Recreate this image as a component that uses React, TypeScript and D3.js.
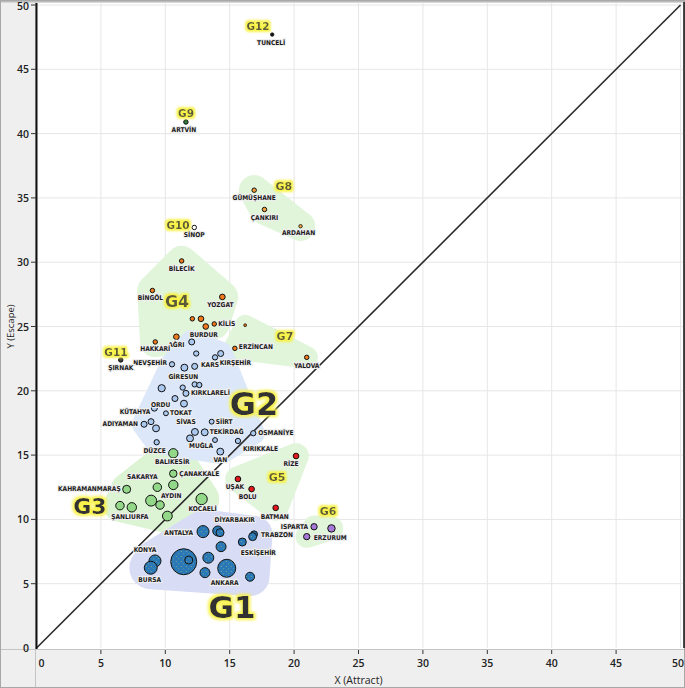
import React from "react";
import * as d3 from "d3";

// ---------- DATA ----------
type Pt = [string, number, number, number]; // name, x (Attract), y (Escape), weight

const g1Points: Pt[] = [
  ["ANTALYA", 12.93, 9.05, 36],
  ["DİYARBAKIR", 14.07, 9.1, 25],
  ["", 14.25, 8.97, 16],
  ["TRABZON", 16.89, 8.84, 12],
  ["", 16.78, 8.66, 16],
  ["ESKİŞEHİR", 15.98, 8.24, 16],
  ["", 14.33, 7.88, 25],
  ["", 13.34, 7.02, 30],
  ["", 11.43, 6.71, 169],
  ["", 11.82, 6.84, 16],
  ["ANKARA", 14.77, 6.2, 81],
  ["", 13.08, 5.86, 25],
  ["", 16.58, 5.54, 20],
  ["KONYA", 9.2, 6.77, 36],
  ["BURSA", 8.87, 6.24, 42],
];

const g2Points: Pt[] = [
  ["", 12.05, 23.8, 9],
  ["", 12.4, 22.9, 7],
  ["KIRŞEHİR", 14.3, 22.9, 9],
  ["KARS", 13.86, 22.6, 7],
  ["NEVŞEHİR", 10.52, 22.06, 7],
  ["GİRESUN", 11.48, 21.8, 12],
  ["", 12.28, 21.9, 9],
  ["ORDU", 9.72, 20.2, 13],
  ["", 11.35, 20.25, 7],
  ["", 12.28, 20.5, 7],
  ["", 12.64, 20.45, 7],
  ["KIRKLARELİ", 11.6, 19.8, 9],
  ["", 10.75, 19.4, 9],
  ["SİVAS", 11.45, 19.0, 12],
  ["KÜTAHYA", 9.15, 18.65, 9],
  ["TOKAT", 10.05, 18.25, 6],
  ["", 8.89, 17.6, 9],
  ["ADIYAMAN", 8.35, 17.4, 9],
  ["", 9.28, 17.08, 12],
  ["SİİRT", 13.6, 17.6, 6],
  ["", 12.3, 16.8, 12],
  ["TEKİRDAĞ", 13.06, 16.77, 12],
  ["MUĞLA", 11.92, 16.3, 12],
  ["", 13.86, 16.17, 6],
  ["OSMANİYE", 16.83, 16.7, 7],
  ["KIRIKKALE", 15.64, 16.1, 7],
  ["DÜZCE", 9.33, 16.0, 7],
  ["VAN", 14.27, 15.27, 12],
];

const g3Points: Pt[] = [
  ["BALIKESİR", 10.62, 15.14, 22],
  ["ÇANAKKALE", 10.62, 13.56, 14],
  ["SAKARYA", 9.38, 12.5, 18],
  ["AYDIN", 10.62, 12.68, 22],
  ["KAHRAMANMARAŞ", 7.0, 12.34, 16],
  ["", 8.9, 11.46, 30],
  ["", 9.59, 11.12, 18],
  ["KOCAELİ", 12.82, 11.58, 32],
  ["", 6.48, 11.07, 18],
  ["ŞANLIURFA", 7.4, 10.94, 22],
  ["", 10.16, 10.26, 24],
];

const g4Points: Pt[] = [
  ["BİLECİK", 11.27, 30.1, 5],
  ["BİNGÖL", 9.0, 27.8, 5],
  ["YOZGAT", 14.43, 27.3, 8],
  ["", 12.1, 25.6, 5],
  ["", 12.77, 25.6, 8],
  ["BURDUR", 13.14, 25.0, 8],
  ["KİLİS", 13.8, 25.2, 5],
  ["AĞRI", 10.86, 24.2, 8],
  ["HAKKARİ", 9.22, 23.8, 5],
];

const g5Points: Pt[] = [
  ["RİZE", 20.15, 14.93, 8],
  ["UŞAK", 15.64, 13.14, 8],
  ["BOLU", 16.7, 12.36, 8],
  ["BATMAN", 18.57, 10.9, 8],
];

const g6Points: Pt[] = [
  ["ISPARTA", 21.55, 9.43, 10],
  ["", 22.9, 9.3, 14],
  ["ERZURUM", 20.98, 8.66, 10],
];

const g7Points: Pt[] = [
  ["", 16.2, 25.1, 2],
  ["ERZİNCAN", 15.4, 23.3, 5],
  ["YALOVA", 20.98, 22.6, 5],
];

const g8Points: Pt[] = [
  ["GÜMÜŞHANE", 16.9, 35.6, 5],
  ["ÇANKIRI", 17.7, 34.1, 5],
  ["ARDAHAN", 20.5, 32.8, 3],
];

const g9Points: Pt[] = [["ARTVİN", 11.6, 40.9, 5]];
const g10Points: Pt[] = [["SİNOP", 12.25, 32.7, 5]];
const g11Points: Pt[] = [["ŞIRNAK", 6.54, 22.4, 5]];
const g12Points: Pt[] = [["TUNCELİ", 18.3, 47.7, 3]];

const groupIds = ["G1", "G2", "G3", "G4", "G5", "G6", "G7", "G8", "G9", "G10", "G11", "G12"];
const groupPoints: Pt[][] = [
  g1Points, g2Points, g3Points, g4Points, g5Points, g6Points,
  g7Points, g8Points, g9Points, g10Points, g11Points, g12Points,
];

// group label anchor (data coordinates)
const groupLabelX = [15.18, 16.89, 4.15, 10.91, 18.67, 22.63, 19.29, 19.21, 11.61, 10.99, 6.17, 17.2];
const groupLabelY = [3.19, 18.97, 11.04, 26.98, 13.22, 10.65, 24.26, 35.85, 41.6, 32.89, 23.02, 48.37];

const axisTicks = [0, 5, 10, 15, 20, 25, 30, 35, 40, 45, 50];

// ---------- STYLE / LAYOUT ----------
const W = 685;
const H = 688;
const PLOT_L = 36.5;
const PLOT_R = 680.5;
const PLOT_T = 5;
const PLOT_B = 648;

const pointFill: Record<string, string> = {
  G1: "#2a78b6", G2: "#abc8ee", G3: "#93d889", G4: "#f07a1e", G5: "#e3171c", G6: "#a678d8",
  G7: "#f07a1e", G8: "#f2a33c", G9: "#2f7d3c", G10: "#ffffff", G11: "#3c3c3c", G12: "#111111",
};
const hullFill: Record<string, string> = {
  G1: "#d8dcf4", G2: "#dce8fa", G3: "#dcf3d4", G4: "#e0f5d9", G5: "#e0f5d9", G6: "#e0f5d9",
  G7: "#e0f5d9", G8: "#e0f5d9",
};
const hullPad: Record<string, number> = { G1: 15, G2: 9, G3: 12, G4: 13, G5: 10, G6: 8, G7: 9, G8: 13 };
const hullOrder = ["G4", "G7", "G8", "G3", "G5", "G6", "G2", "G1"];
const groupLabelSize = [31, 32, 22, 16, 11, 11, 11, 11, 10.5, 10.5, 10.5, 10.5];

// label offset in px relative to point: dx, dy, anchor
const labelLayout: Record<string, [number, number, string]> = {
  "TUNCELİ": [-1, 8, "middle"], "ARTVİN": [-2, 8, "middle"], "GÜMÜŞHANE": [0, 8, "middle"],
  "ÇANKIRI": [0, 9, "middle"], "ARDAHAN": [-2, 7, "middle"], "SİNOP": [0, 8, "middle"],
  "BİLECİK": [0, 8, "middle"], "BİNGÖL": [-2, 8, "middle"], "YOZGAT": [-2, 8, "middle"],
  "BURDUR": [-2, 8, "middle"], "KİLİS": [4, 0, "start"], "AĞRI": [0, 8, "middle"],
  "HAKKARİ": [0, 7, "middle"], "ERZİNCAN": [4, -1, "start"], "YALOVA": [0, 9, "middle"],
  "ŞIRNAK": [0, 8, "middle"], "NEVŞEHİR": [-5, -1, "end"], "GİRESUN": [-1, 9, "middle"],
  "KARS": [-5, 8, "middle"], "KIRŞEHİR": [-1, 9, "start"], "KIRKLARELİ": [5, 0, "start"],
  "ORDU": [-1, 17, "middle"], "KÜTAHYA": [-4, 4, "end"], "TOKAT": [4, 0, "start"],
  "ADIYAMAN": [-6, 0, "end"], "SİVAS": [2, 18, "middle"], "SİİRT": [4, 0, "start"],
  "TEKİRDAĞ": [5, 0, "start"], "MUĞLA": [11, 8, "middle"], "OSMANİYE": [5, 0, "start"],
  "KIRIKKALE": [5, 8, "start"], "DÜZCE": [-2, 9, "middle"], "VAN": [0, 8, "middle"],
  "BALIKESİR": [-1, 9, "middle"], "ÇANAKKALE": [6, 0, "start"], "SAKARYA": [-15, -10, "middle"],
  "KAHRAMANMARAŞ": [-6, 0, "end"], "AYDIN": [-2, 11, "middle"], "KOCAELİ": [1, 10, "middle"],
  "ŞANLIURFA": [-2, 10, "middle"], "RİZE": [-5, 8, "middle"], "UŞAK": [-3, 8, "middle"],
  "BOLU": [-4, 8, "middle"], "BATMAN": [-1, 9, "middle"], "ISPARTA": [-6, 0, "end"],
  "ERZURUM": [7, 1, "start"], "ANTALYA": [-10, 1, "end"], "DİYARBAKIR": [17, -11, "middle"],
  "TRABZON": [7, 1, "start"], "ESKİŞEHİR": [16, 11, "middle"], "ANKARA": [-2, 15, "middle"],
  "KONYA": [-10, -11, "middle"], "BURSA": [-1, 12, "middle"],
};

export default function App() {
  const x = d3.scaleLinear().domain([0, 50]).range([PLOT_L, PLOT_R]);
  const y = d3.scaleLinear().domain([0, 50]).range([PLOT_B, PLOT_T]);
  const r = d3.scaleSqrt().domain([0, 169]).range([0, 13]);

  const all = groupPoints.flatMap((pts, gi) =>
    pts.map(([name, px, py, w]) => ({ name, group: groupIds[gi], x: px, y: py, w }))
  );

  const hullPath = (g: string) => {
    const gi = groupIds.indexOf(g);
    const pts = groupPoints[gi];
    const pad = hullPad[g];
    const cloud: [number, number][] = [];
    pts.forEach(([, px, py, w]) => {
      const rr = r(w) + pad;
      for (let k = 0; k < 24; k++) {
        const a = (k / 24) * Math.PI * 2;
        cloud.push([x(px) + rr * Math.cos(a), y(py) + rr * Math.sin(a)]);
      }
    });
    const hull = d3.polygonHull(cloud);
    if (!hull) return "";
    return d3.line().curve(d3.curveLinearClosed)(hull) || "";
  };

  const labelFont = "'DejaVu Sans Condensed', 'DejaVu Sans', sans-serif";
  const axisFont = "'Open Sans', 'DejaVu Sans', sans-serif";

  return (
    <svg width={W} height={H} style={{ position: "absolute", left: 0, top: 0 }}>
      <defs>
        <filter id="glowS" x="-40%" y="-40%" width="180%" height="180%">
          <feMorphology in="SourceAlpha" operator="dilate" radius="1.6" result="d" />
          <feGaussianBlur in="d" stdDeviation="1.2" result="b" />
          <feFlood floodColor="#f8f24a" result="f" />
          <feComposite in="f" in2="b" operator="in" result="g" />
          <feMerge>
            <feMergeNode in="g" />
            <feMergeNode in="SourceGraphic" />
          </feMerge>
        </filter>
        <filter id="glowL" x="-30%" y="-30%" width="160%" height="160%">
          <feMorphology in="SourceAlpha" operator="dilate" radius="2.2" result="d" />
          <feGaussianBlur in="d" stdDeviation="1.5" result="b" />
          <feFlood floodColor="#f8f24a" result="f" />
          <feComposite in="f" in2="b" operator="in" result="g" />
          <feMerge>
            <feMergeNode in="g" />
            <feMergeNode in="SourceGraphic" />
          </feMerge>
        </filter>
        <pattern id="speck" width="5" height="5" patternUnits="userSpaceOnUse">
          <rect width="5" height="5" fill="#2a78b6" />
          <circle cx="1.2" cy="1.5" r="0.45" fill="#d9d96a" />
          <circle cx="3.7" cy="3.8" r="0.4" fill="#c9d970" />
        </pattern>
      </defs>
      {/* panels */}
      <rect x={0} y={0} width={W} height={H} fill="#efefef" />
      <rect x={PLOT_L} y={3} width={W - PLOT_L} height={PLOT_B - 3 + 1} fill="#ffffff" />
      <rect x={0} y={0} width={W} height={2.5} fill="#bdbdbd" />
      <line x1={35.5} x2={35.5} y1={0} y2={H} stroke="#c4c4c4" />
      <line x1={0} x2={W} y1={649.5} y2={649.5} stroke="#c4c4c4" />
      <rect x={0.5} y={0.5} width={W - 1} height={H - 1} fill="none" stroke="#a8a8a8" />

      {/* grid */}
      {axisTicks.filter((t) => t > 0).map((t) => (
        <g key={"g" + t}>
          <line x1={x(t)} x2={x(t)} y1={3} y2={PLOT_B} stroke="#e6e6e6" strokeWidth={1} />
          <line x1={PLOT_L} x2={W} y1={y(t)} y2={y(t)} stroke="#e6e6e6" strokeWidth={1} />
        </g>
      ))}

      {/* hulls */}
      {hullOrder.map((g) => (
        <path key={"h" + g} d={hullPath(g)} fill={hullFill[g]} stroke="none" />
      ))}

      {/* diagonal y = x */}
      <line x1={x(0)} y1={y(0)} x2={x(50)} y2={y(50)} stroke="#2a2a2a" strokeWidth={1.6} />

      {/* points */}
      {all.map((d, i) => (
        <circle
          key={"p" + i}
          cx={x(d.x)}
          cy={y(d.y)}
          r={r(d.w)}
          fill={d.group === "G1" ? "url(#speck)" : pointFill[d.group]}
          stroke="#111"
          strokeWidth={d.w > 4 ? 1 : 0.8}
        />
      ))}

      {/* point labels */}
      {all.filter((d) => d.name).map((d, i) => {
        const lay = labelLayout[d.name] || [0, 8, "middle"];
        return (
          <text
            key={"l" + i}
            x={x(d.x) + lay[0]}
            y={y(d.y) + lay[1]}
            textAnchor={lay[2] as any}
            dominantBaseline="central"
            fontFamily={labelFont}
            fontSize={6.6}
            fontWeight={700}
            fill="#1a1a1a"
            stroke="#eeeeee"
            strokeWidth={2.2}
            paintOrder="stroke"
          >
            {d.name}
          </text>
        );
      })}

      {/* group labels */}
      {groupIds.map((g, i) => (
        <text
          key={"gl" + g}
          x={x(groupLabelX[i])}
          y={y(groupLabelY[i])}
          textAnchor="middle"
          dominantBaseline="central"
          fontFamily="'DejaVu Sans', sans-serif"
          fontWeight={700}
          fontSize={groupLabelSize[i]}
          fill={groupLabelSize[i] > 20 ? "#333333" : "#5a5a3a"}
          filter={groupLabelSize[i] > 20 ? "url(#glowL)" : "url(#glowS)"}
        >
          {g}
        </text>
      ))}

      {/* axes */}
      <line x1={PLOT_L} x2={PLOT_L} y1={3} y2={PLOT_B + 1} stroke="#111" strokeWidth={2} />
      <line x1={684} x2={684} y1={2} y2={PLOT_B} stroke="#111" strokeWidth={1.5} />
      {axisTicks.map((t) => (
        <g key={"yt" + t}>
          {t > 0 && <line x1={31} x2={PLOT_L} y1={y(t)} y2={y(t)} stroke="#333" />}
          <text
            x={29}
            y={y(t) + (t === 50 ? 1 : 0)}
            textAnchor="end"
            dominantBaseline="central"
            fontFamily={axisFont}
            fontSize={10.5}
            fontWeight={600}
            fill="#222"
          >
            {t}
          </text>
        </g>
      ))}
      {axisTicks.map((t) => (
        <g key={"xt" + t}>
          {t > 0 && t < 50 && <line x1={x(t)} x2={x(t)} y1={650} y2={654} stroke="#333" />}
          <text
            x={t === 0 ? x(t) + 2 : t === 50 ? 684 : x(t)}
            y={663}
            textAnchor={t === 0 ? "start" : t === 50 ? "end" : "middle"}
            dominantBaseline="central"
            fontFamily={axisFont}
            fontSize={10.5}
            fontWeight={600}
            fill="#222"
          >
            {t}
          </text>
        </g>
      ))}
      <text
        x={(PLOT_L + PLOT_R) / 2}
        y={680}
        textAnchor="middle"
        dominantBaseline="central"
        fontFamily={axisFont}
        fontSize={10.5}
        fill="#222"
      >
        X (Attract)
      </text>
      <text
        transform={`translate(10, ${(PLOT_T + PLOT_B) / 2}) rotate(-90)`}
        textAnchor="middle"
        dominantBaseline="central"
        fontFamily={axisFont}
        fontSize={9.5}
        fill="#222"
      >
        Y (Escape)
      </text>
    </svg>
  );
}
